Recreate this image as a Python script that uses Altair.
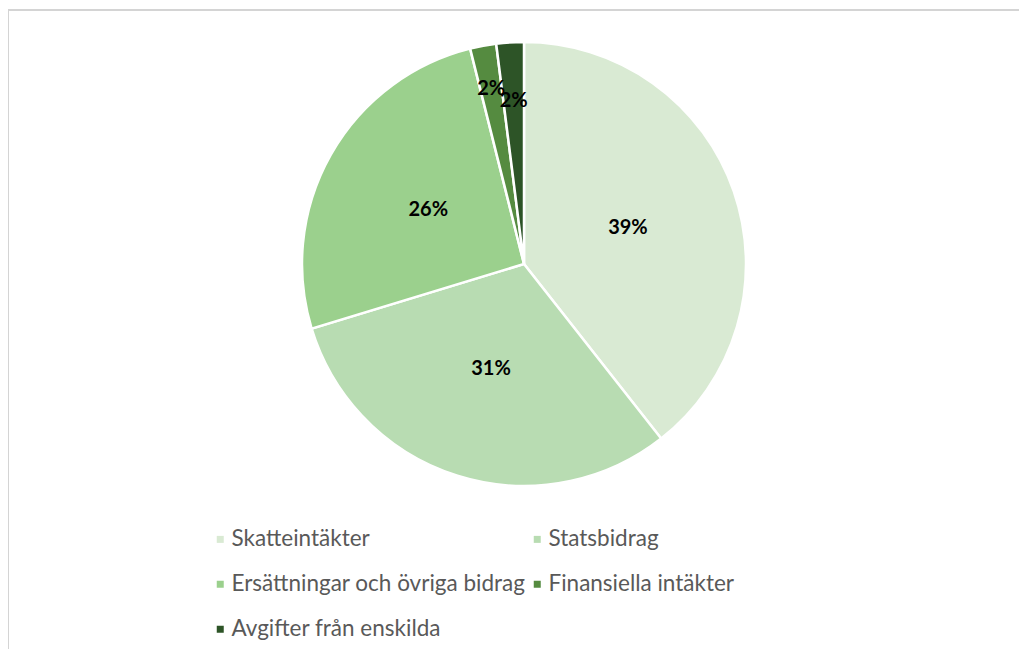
import altair as alt
import pandas as pd

categories = ["Skatteintäkter", "Statsbidrag", "Ersättningar och övriga bidrag",
              "Finansiella intäkter", "Avgifter från enskilda"]
values = [39.4, 30.9, 25.8, 1.9, 2.0]
colors = ["#d9ead3", "#b8dcb2", "#9bd08d", "#558b40", "#2d5427"]
label_radius = [110, 110, 110, 178, 163]

df = pd.DataFrame({"kategori": categories, "andel": values,
                   "idx": list(range(len(categories))), "lr": label_radius})
total = float(sum(values))

CX, CY = 516, 254
R = 222

arcs = alt.Chart(df).mark_arc(radius=R, x=CX, y=CY, stroke="white", strokeWidth=2.5).encode(
    theta=alt.Theta("andel:Q", stack=True),
    order=alt.Order("idx:Q", sort="ascending"),
    color=alt.Color(
        "kategori:N",
        scale=alt.Scale(domain=categories, range=colors),
        sort=categories,
        legend=alt.Legend(
            title=None, orient="none", legendX=201, legendY=518, columns=2,
            direction="horizontal",
            symbolType="square", symbolSize=49, symbolStrokeWidth=0,
            labelFont="Lato", labelFontSize=22.5, labelColor="#595959",
            labelOffset=0, columnPadding=0, rowPadding=22, labelLimit=500,
        ),
    ),
)

lab_base = alt.Chart(df).transform_window(
    cum="sum(andel)", sort=[alt.SortField("idx", order="ascending")], frame=[None, 0]
).transform_calculate(
    mid="datum.cum - datum.andel / 2",
    txt="format(datum.andel, '.0f') + '%'",
)

def labels(filter_expr, radius):
    return lab_base.transform_filter(filter_expr).mark_text(
        radius=radius, x=CX, y=CY, font="Lato", fontSize=20, fontWeight="bold", color="black"
    ).encode(
        theta=alt.Theta("mid:Q", stack=None, scale=alt.Scale(domain=[0, total])),
        text="txt:N",
    )

big = labels("datum.idx < 3", label_radius[0])
fin = labels("datum.idx == 3", label_radius[3])
avg = labels("datum.idx == 4", label_radius[4])

frame_df = pd.DataFrame({"f": [0]})
top_line = alt.Chart(frame_df).mark_rule(color="#d4d4d4", strokeWidth=2).encode(
    x=alt.value(-2), x2=alt.value(1020), y=alt.value(0)
)
left_line = alt.Chart(frame_df).mark_rule(color="#d4d4d4", strokeWidth=2).encode(
    x=alt.value(0), y=alt.value(-1), y2=alt.value(660)
)

chart = alt.layer(arcs, big, fin, avg, top_line, left_line).properties(
    width=1011, height=639,
    autosize=alt.AutoSizeParams(type="none"),
    padding={"left": 0, "top": 2, "right": 0, "bottom": 0},
).resolve_scale(theta="independent").configure(background="white")

chart.save("out.html", embed_options={"renderer": "svg", "actions": False})
